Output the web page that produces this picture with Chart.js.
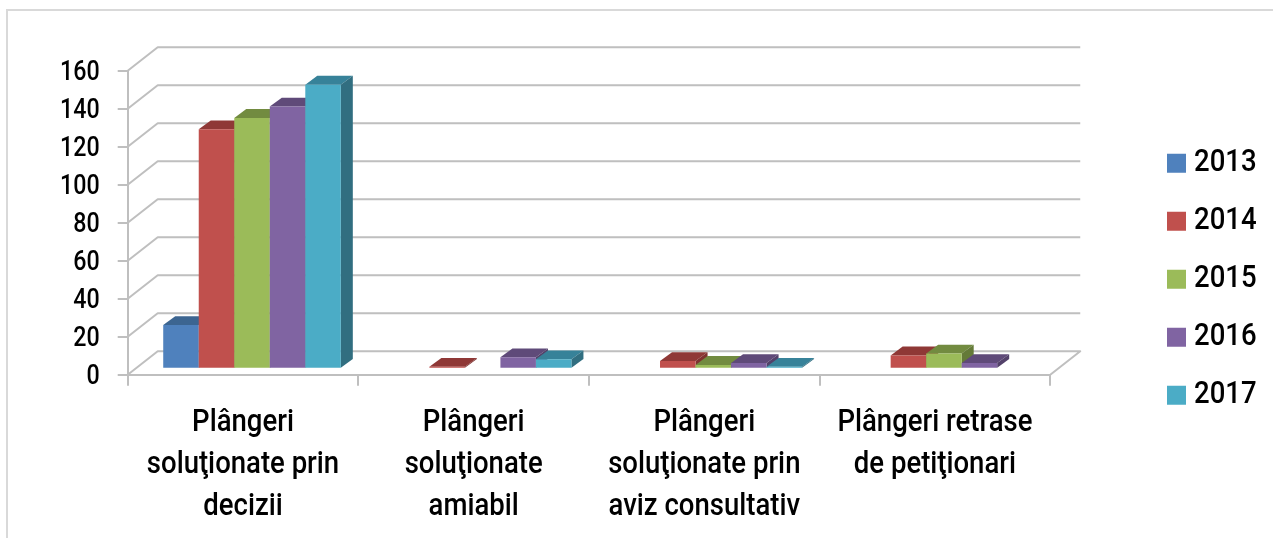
<!DOCTYPE html>
<html>
<head>
<meta charset="utf-8">
<script src="https://cdn.jsdelivr.net/npm/chart.js@4"></script>
<style>
html,body{margin:0;padding:0;background:#fff;}
#wrap{position:absolute;left:0;top:0;width:1273px;height:538px;overflow:hidden;}
#frame{position:absolute;left:6px;top:9px;width:1300px;height:600px;border:2px solid #d9d9d9;box-sizing:border-box;}
canvas{position:absolute;left:0;top:0;}
</style>
</head>
<body>
<div id="wrap"><div id="frame"></div><canvas id="c" width="1273" height="538"></canvas></div>
<script>
const categories = [
  ["Plângeri","soluţionate prin","decizii"],
  ["Plângeri","soluţionate","amiabil"],
  ["Plângeri","soluţionate prin","aviz consultativ"],
  ["Plângeri retrase","de petiţionari"]
];
const years = ["2013","2014","2015","2016","2017"];
const values2013 = [23, null, null, null];
const values2014 = [126, 1, 4, 7];
const values2015 = [132, null, 2, 8];
const values2016 = [138, 6, 3, 3];
const values2017 = [149.5, 5, 1, null];
const yTicks = [0,20,40,60,80,100,120,140,160];
const frontColors = ["#4f81bd","#c0504d","#9bbb59","#8064a2","#4bacc6"];
const topColors = ["#3c6591","#8f3836","#728b40","#5f4a79","#378299"];
const sideColors = ["#345780","#7f3230","#647a38","#53416a","#316e80"];
const seriesValues = [values2013,values2014,values2015,values2016,values2017];

const wall = {dx:30, dy:-23.4};
const barShift = {dx:9, dy:-6};
const depth = {dx:12, dy:-8.8};
const gridColor = "#bfbfbf";
const textScale = 0.86;

const canvas = document.getElementById('c');
const ctx0 = canvas.getContext('2d');
const origFill = ctx0.fillText.bind(ctx0);
ctx0.fillText = function(text,x,y,mw){
  if (/^20\d\d$/.test(text)) x -= 8;
  else if (/^\d+$/.test(text)) y += 3;
  ctx0.save();
  ctx0.translate(x,y);
  ctx0.scale(textScale,1);
  origFill(text,0,0);
  ctx0.restore();
};

const plugin3d = {
  id:'plugin3d',
  afterLayout(chart){
    const l = chart.legend;
    l.left = 1141; l.right = l.left + l.width;
    l.top = 45.5; l.bottom = l.top + l.height;
  },
  beforeDatasetsDraw(chart){
    const ctx = chart.ctx, ys = chart.scales.y, a = chart.chartArea;
    ctx.save();
    ctx.strokeStyle = gridColor; ctx.lineWidth = 2; ctx.lineJoin='round';
    yTicks.forEach(v=>{
      const p = ys.getPixelForValue(v);
      ctx.beginPath();
      ctx.moveTo(a.left,p);
      ctx.lineTo(a.left+wall.dx,p+wall.dy);
      ctx.lineTo(a.right+wall.dx,p+wall.dy);
      if (v===0) ctx.lineTo(a.right,p);
      ctx.stroke();
    });
    ctx.restore();
  },
  beforeDatasetDraw(){ return false; },
  afterDatasetsDraw(chart){
    const ctx = chart.ctx;
    chart.data.datasets.forEach((ds,i)=>{
      const meta = chart.getDatasetMeta(i);
      ctx.save();
      ctx.translate(barShift.dx,barShift.dy);
      meta.data.forEach((el,j)=>{
        if (ds.data[j]===null) return;
        const l = el.x-el.width/2, r = el.x+el.width/2, t = el.y, b = el.base;
        ctx.fillStyle = topColors[i];
        ctx.beginPath();
        ctx.moveTo(l,t);ctx.lineTo(l+depth.dx,t+depth.dy);ctx.lineTo(r+depth.dx,t+depth.dy);ctx.lineTo(r,t);
        ctx.closePath();ctx.fill();
        ctx.fillStyle = sideColors[i];
        ctx.beginPath();
        ctx.moveTo(r,t);ctx.lineTo(r+depth.dx,t+depth.dy);ctx.lineTo(r+depth.dx,b+depth.dy);ctx.lineTo(r,b);
        ctx.closePath();ctx.fill();
      });
      meta.controller.draw();
      ctx.restore();
    });
  }
};

new Chart(canvas,{
  type:'bar',
  data:{
    labels:categories,
    datasets:years.map((y,i)=>({
      label:y,
      data:seriesValues[i],
      backgroundColor:frontColors[i],
      borderWidth:0,
      categoryPercentage:0.77,
      barPercentage:1
    }))
  },
  options:{
    responsive:false,
    animation:false,
    layout:{padding:{top:70.7,left:0,right:79,bottom:0}},
    plugins:{
      tooltip:{enabled:false},
      legend:{
        position:'right',
        align:'center',
        labels:{
          boxWidth:19,boxHeight:19,padding:26,color:'#000',
          font:{family:'Roboto',size:32,weight:'500'}
        }
      }
    },
    scales:{
      x:{
        afterFit(s){ s.height = 538-374.7; },
        grid:{drawOnChartArea:false,color:gridColor,lineWidth:2,tickLength:11,tickColor:gridColor},
        border:{color:gridColor,width:2},
        ticks:{color:'#000',font:{family:'Roboto',size:32,weight:'500',lineHeight:1.3125},padding:16,maxRotation:0,autoSkip:false}
      },
      y:{
        min:0,max:160,
        afterFit(s){ s.width = 127.7; },
        grid:{drawOnChartArea:false,color:gridColor,lineWidth:2,tickLength:10,tickColor:gridColor},
        border:{color:gridColor,width:2},
        afterBuildTicks(s){ s.ticks = yTicks.map(v=>({value:v})); },
        ticks:{color:'#000',font:{family:'Roboto',size:27,weight:'500'},padding:18}
      }
    }
  },
  plugins:[plugin3d]
});
</script>
</body>
</html>
